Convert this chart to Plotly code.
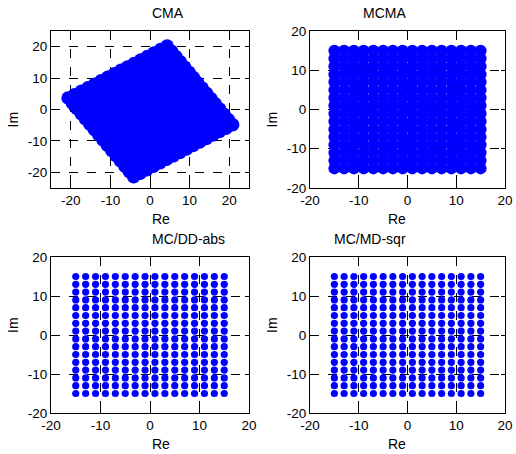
import numpy as np
import plotly.graph_objects as go

# 256-QAM constellation levels (per axis)
levels = [-15, -13, -11, -9, -7, -5, -3, -1, 1, 3, 5, 7, 9, 11, 13, 15]
# CMA output: residual phase rotation (degrees) and centre offset
cma_phase_deg = 33.5
cma_offset_re = 0.1
cma_offset_im = -0.6

titles = ["CMA", "MCMA", "MC/DD-abs", "MC/MD-sqr"]
tick_vals = [-20, -10, 0, 10, 20]
tick_text = ["-20", "-10", "0", "10", "20"]

I, Q = np.meshgrid(levels, levels)
I = I.ravel().astype(float)
Q = Q.ravel().astype(float)
th = np.deg2rad(cma_phase_deg)
cma_re = I * np.cos(th) - Q * np.sin(th) + cma_offset_re
cma_im = I * np.sin(th) + Q * np.cos(th) + cma_offset_im

W, H = 516, 454
boxes = [  # left, right, top, bottom in px
    (51, 249, 31, 188),
    (310, 505, 31, 188),
    (51, 249, 257, 413),
    (310, 505, 257, 413),
]
ranges = [[-25, 25], [-20, 20], [-20, 20], [-20, 20]]
sizes = [13.5, 12, 7.2, 7.2]
data_xy = [(cma_re, cma_im), (I, Q), (I, Q), (I, Q)]

fig = go.Figure()
fam = "Liberation Sans, Arial, sans-serif"
tfont = dict(family=fam, size=13.5, color="black")
lfont = dict(family=fam, size=14, color="black")
annotations = []
for k in range(4):
    l, r, t, b = boxes[k]
    sx = "" if k == 0 else str(k + 1)
    x, y = data_xy[k]
    fig.add_trace(go.Scatter(x=x, y=y, mode="markers", xaxis="x" + sx, yaxis="y" + sx,
                             marker=dict(color="#0000FF", size=sizes[k], line=dict(width=0)),
                             showlegend=False, hoverinfo="skip"))
    ax = dict(range=ranges[k], tickvals=tick_vals, ticktext=tick_text, ticks="inside", ticklen=4,
              tickcolor="black", showline=True, linecolor="black", linewidth=1, mirror="ticks",
              showgrid=True, gridcolor="black", griddash="dash", gridwidth=1, zeroline=False,
              tickfont=tfont, automargin=False, ticklabeloverflow="allow")
    fig.layout["xaxis" + sx] = dict(ax, domain=[l / W, r / W], anchor="y" + sx)
    fig.layout["yaxis" + sx] = dict(ax, domain=[1 - b / H, 1 - t / H], anchor="x" + sx)
    cx = (l + r) / 2 / W
    annotations.append(dict(text=titles[k], x=cx, y=1 - (t - 8) / H, xref="paper", yref="paper",
                            showarrow=False, yanchor="bottom", font=lfont))
    annotations.append(dict(text="Re", x=cx, y=1 - (b + 21) / H, xref="paper", yref="paper",
                            showarrow=False, yanchor="top", font=lfont))
    annotations.append(dict(text="Im", x=(l - 38) / W, y=1 - (t + b) / 2 / H, xref="paper",
                            yref="paper", showarrow=False, textangle=-90, xanchor="center",
                            font=lfont))

fig.update_layout(width=W, height=H, margin=dict(l=0, r=0, t=0, b=0),
                  paper_bgcolor="white", plot_bgcolor="white", annotations=annotations,
                  font=tfont)
fig.write_html("out.html", config={"displayModeBar": False, "staticPlot": True},
               post_script="document.body.style.margin='0';document.body.style.overflow='hidden';")
